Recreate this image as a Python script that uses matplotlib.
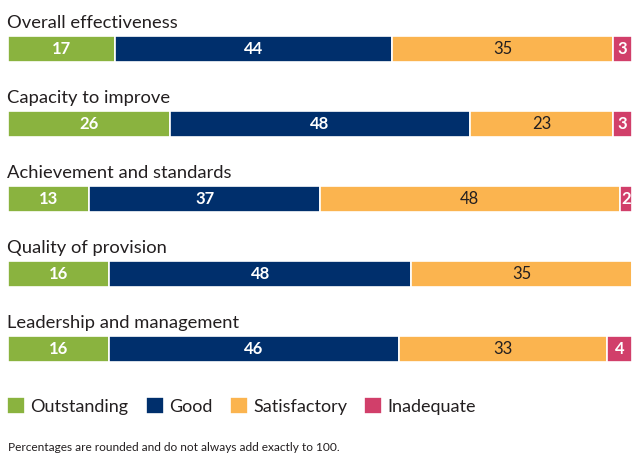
import numpy as np
import matplotlib.pyplot as plt

# data
categories = ["Overall effectiveness", "Capacity to improve", "Achievement and standards",
              "Quality of provision", "Leadership and management"]
outstanding = [17, 26, 13, 16, 16]
good = [44, 48, 37, 48, 46]
satisfactory = [35, 23, 48, 35, 33]
inadequate = [3, 3, 2, 0, 4]
series_names = ["Outstanding", "Good", "Satisfactory", "Inadequate"]

colors = ["#8AB33F", "#002F6C", "#FBB44F", "#D13F6A"]
label_colors = ["white", "white", "#231F20", "white"]
label_weights = ["bold", "bold", "normal", "bold"]

plt.rcParams['font.family'] = ['Lato', 'DejaVu Sans']

fig = plt.figure(figsize=(6.33, 4.54), dpi=100)
ax = fig.add_axes([8 / 633, 75 / 454, 624 / 633, 375 / 454])

vals = np.array([outstanding, good, satisfactory, inadequate], dtype=float)
totals = vals.sum(axis=0)
shares = vals / totals * 100  # each bar fills the full width
y = np.arange(len(categories))

left = np.zeros(len(categories))
handles = []
for k in range(len(series_names)):
    bars = ax.barh(y, shares[k], left=left, height=0.34, color=colors[k],
                   edgecolor="white", linewidth=1.2, label=series_names[k])
    handles.append(bars)
    for i in range(len(categories)):
        if vals[k, i] > 0:
            ax.text(left[i] + shares[k, i] / 2, y[i], f"{int(vals[k, i])}",
                    ha="center", va="center", color=label_colors[k],
                    fontsize=12, fontweight=label_weights[k])
    left += shares[k]

for i, c in enumerate(categories):
    ax.text(-0.2, y[i] - 0.24, c, ha="left", va="bottom", fontsize=13.2, color="#231F20")

ax.set_xlim(0, 100)
ax.set_ylim(4.4, -0.6)
ax.axis("off")

leg = fig.legend(handles=handles, labels=series_names, loc="upper left",
                 bbox_to_anchor=(7 / 633, 1 - 397 / 454), ncol=4, frameon=False,
                 handlelength=1.0, handleheight=1.05, handletextpad=0.3,
                 columnspacing=0.95, fontsize=13, borderaxespad=0, borderpad=0)
for t in leg.get_texts():
    t.set_color("#231F20")

fig.text(8 / 633, 3 / 454, "Percentages are rounded and do not always add exactly to 100.",
         ha="left", va="baseline", fontsize=8.6, color="#231F20")

fig.savefig("out.png", dpi=100)
